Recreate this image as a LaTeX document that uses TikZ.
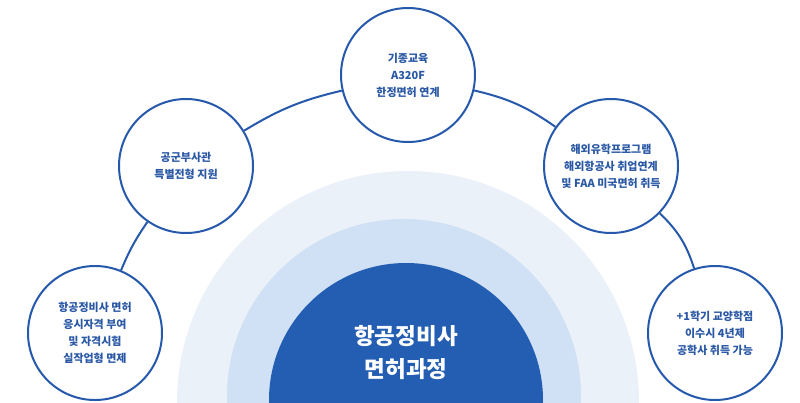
\documentclass[tikz,border=0pt]{standalone}
\usepackage{fontspec}
\newfontfamily\kr{Noto Sans CJK KR}
\definecolor{ringA}{HTML}{EBF1F9}
\definecolor{ringB}{HTML}{D1E1F5}
\definecolor{coreblue}{HTML}{245EB3}
\definecolor{strokeblue}{HTML}{2659AB}
\definecolor{txtblue}{HTML}{2A58A5}
\tikzset{
  bubble/.style={circle, draw=strokeblue, line width=2pt, fill=white, minimum size=134pt, inner sep=0pt,
    align=center, text=txtblue, font=\kr\bfseries\fontsize{11}{17}\selectfont},
  link/.style={draw=strokeblue, line width=2pt},
  coretext/.style={align=center, text=white, font=\kr\bfseries\fontsize{22.5}{33}\selectfont}
}
\begin{document}
\begin{tikzpicture}[x=1pt,y=-1pt]
\useasboundingbox (0,0) rectangle (800,402);
\fill[white] (0,0) rectangle (800,402);
\begin{scope}
  \clip (0,0) rectangle (800,402);
  \fill[ringA] (408,402) circle[radius=231pt];
  \fill[ringB] (404,396) circle[radius=177pt];
  \fill[coreblue] (406,400) circle[radius=137pt];
\end{scope}
\node[coretext] (core) at (406,353) {항공정비사\\면허과정};

\node[bubble] (top) at (408,75) {기종교육\\A320F\\한정면허 연계};
\node[bubble] (lu) at (186,166) {공군부사관\\특별전형 지원};
\node[bubble] (ll) at (95,333) {항공정비사 면허\\응시자격 부여\\및 자격시험\\실작업형 면제};
\node[bubble] (ru) at (611,166) {해외유학프로그램\\해외항공사 취업연계\\및 FAA 미국면허 취득};
\node[bubble] (rl) at (715,333) {+1학기 교양학점\\이수시 4년제\\공학사 취득 가능};

\draw[link] (ll) to[bend left=6] (lu);
\draw[link] (lu) to[bend left=9] (top);
\draw[link] (top) to[bend left=11] (ru);
\draw[link] (ru) to[bend left=14] (rl);
\end{tikzpicture}
\end{document}
